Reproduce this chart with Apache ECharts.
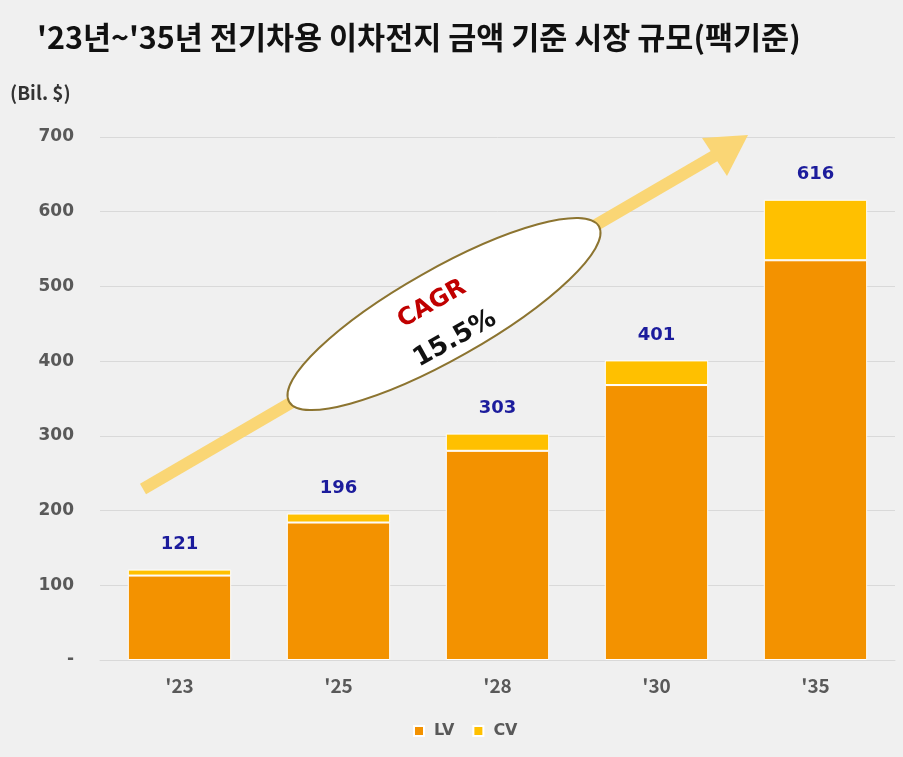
<!DOCTYPE html>
<html>
<head>
<meta charset="utf-8">
<script src="https://cdn.jsdelivr.net/npm/echarts@6/dist/echarts.min.js"></script>
<style>
  html, body { margin: 0; padding: 0; background: #f0f0f0; }
  #main { width: 903px; height: 757px; }
</style>
</head>
<body>
<div id="main"></div>
<script>
// 연도 (x축)
var years = ["'23", "'25", "'28", "'30", "'35"];
// LV / CV 금액 (Bil. $)
var lvData = [113, 184, 280, 368, 535];
var cvData = [8, 12, 23, 33, 81];
var totals = [121, 196, 303, 401, 616];
var yTicks = ['-', '100', '200', '300', '400', '500', '600', '700'];

var FONT = '"Noto Sans CJK KR", "Noto Sans", sans-serif';
var WIDE = '"DejaVu Sans", Verdana, sans-serif';
var chart = echarts.init(document.getElementById('main'));

var option = {
  backgroundColor: '#f0f0f0',
  animation: false,
  textStyle: { fontFamily: FONT },
  title: {
    text: "'23년~'35년 전기차용 이차전지 금액 기준 시장 규모(팩기준)",
    left: 32,
    top: 17,
    textStyle: { fontSize: 30.5, fontWeight: 'bold', color: '#111', fontFamily: FONT }
  },
  grid: { left: 100, right: 8, top: 137, bottom: 97 },
  legend: {
    bottom: 13,
    left: 408,
    icon: 'rect',
    itemWidth: 10,
    itemHeight: 10,
    itemGap: 18,
    textStyle: { fontSize: 16, fontWeight: 'bold', color: '#595959', fontFamily: WIDE, padding: [0, 0, 0, 5] },
    data: ['LV', 'CV']
  },
  xAxis: {
    type: 'category',
    data: years,
    axisLine: { lineStyle: { color: '#d9d9d9' } },
    axisTick: { show: false },
    axisLabel: { fontSize: 19, fontWeight: 'bold', color: '#595959', margin: 16 }
  },
  yAxis: {
    type: 'value',
    name: '(Bil. $)',
    nameLocation: 'end',
    nameGap: 35,
    nameTextStyle: { fontSize: 19, fontWeight: 'bold', color: '#333', align: 'left', padding: [0, 0, 0, -90] },
    min: 0,
    max: 700,
    interval: 100,
    axisLine: { show: false },
    axisTick: { show: false },
    axisLabel: {
      fontSize: 17, fontWeight: 'bold', color: '#595959', margin: 26, fontFamily: WIDE,
      formatter: function (v) { return yTicks[v / 100]; }
    },
    splitLine: { lineStyle: { color: '#d9d9d9' } }
  },
  series: [
    {
      name: 'LV',
      type: 'bar',
      stack: 'total',
      barCategoryGap: '35%',
      data: lvData,
      itemStyle: { color: '#f39200', borderColor: '#fff', borderWidth: 1 }
    },
    {
      name: 'CV',
      type: 'bar',
      stack: 'total',
      data: cvData,
      itemStyle: { color: '#ffc000', borderColor: '#fff', borderWidth: 1 },
      label: {
        show: true,
        position: 'top',
        distance: 16,
        fontSize: 18,
        fontWeight: 'bold',
        fontFamily: WIDE,
        color: '#1c1c9c',
        formatter: function (p) { return totals[p.dataIndex]; }
      }
    }
  ],
  graphic: [
    // 화살표
    {
      type: 'line',
      shape: { x1: 143, y1: 489, x2: 716, y2: 155 },
      style: { stroke: '#fad675', lineWidth: 12 },
      z: 1
    },
    {
      type: 'polygon',
      shape: { points: [[748, 135], [702, 138], [727, 176]] },
      style: { fill: '#fad675' },
      z: 1
    },
    // CAGR 타원
    {
      type: 'ellipse',
      x: 444,
      y: 314,
      rotation: Math.PI / 180 * 29.5,
      shape: { cx: 0, cy: 0, rx: 178, ry: 45 },
      style: { fill: '#ffffff', stroke: '#8c7430', lineWidth: 2 },
      z: 2
    },
    {
      type: 'text',
      x: 432,
      y: 304,
      rotation: Math.PI / 180 * 29.5,
      style: {
        text: 'CAGR', fill: '#c00000', font: 'bold 24px ' + WIDE,
        align: 'center', verticalAlign: 'middle'
      },
      z: 3
    },
    {
      type: 'text',
      x: 455,
      y: 339,
      rotation: Math.PI / 180 * 29.5,
      style: {
        text: '15.5%', fill: '#111', font: 'bold 26px ' + WIDE,
        align: 'center', verticalAlign: 'middle'
      },
      z: 3
    }
  ]
};

chart.setOption(option);
</script>
</body>
</html>
